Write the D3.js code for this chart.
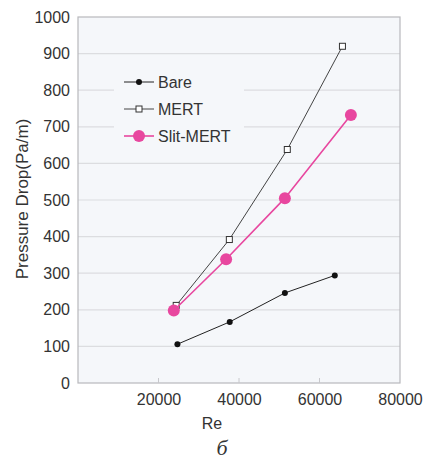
<!DOCTYPE html>
<html>
<head>
<meta charset="utf-8">
<script src="https://cdn.jsdelivr.net/npm/d3@7"></script>
<style>
  body { margin: 0; background: #fff; }
  svg text { font-family: "Liberation Sans", Arial, sans-serif; fill: #333; }
</style>
</head>
<body>
<svg width="427" height="461"></svg>
<script>
  const bareRe = [24700, 37700, 51400, 63800];
  const bareDp = [106, 167, 246, 294];
  const mertRe = [24400, 37600, 52000, 65700];
  const mertDp = [212, 392, 638, 920];
  const slitRe = [23800, 36800, 51400, 67800];
  const slitDp = [198, 338, 505, 732];
  const xTicks = [20000, 40000, 60000, 80000];
  const yTicks = [0, 100, 200, 300, 400, 500, 600, 700, 800, 900, 1000];

  const svg = d3.select('svg');
  const margin = { top: 17, right: 27, bottom: 78, left: 78 };
  const width = 427 - margin.left - margin.right;
  const height = 461 - margin.top - margin.bottom;
  const font = '"Liberation Sans", Arial, sans-serif';

  const x = d3.scaleLinear().domain([0, 80000]).range([0, width]);
  const y = d3.scaleLinear().domain([0, 1000]).range([height, 0]);

  const g = svg.append('g')
    .attr('transform', `translate(${margin.left},${margin.top})`);

  g.append('rect')
    .attr('width', width).attr('height', height)
    .attr('fill', '#f5f7fa');

  // horizontal grid
  g.append('g')
    .selectAll('line')
    .data(yTicks.slice(1, -1))
    .enter().append('line')
      .attr('x1', 0).attr('x2', width)
      .attr('y1', d => y(d)).attr('y2', d => y(d))
      .attr('stroke', '#dcdde0').attr('stroke-width', 1.2);

  g.append('rect')
    .attr('width', width).attr('height', height)
    .attr('fill', 'none').attr('stroke', '#b8b8bc').attr('stroke-width', 1.2);

  // small x ticks inside
  g.append('g')
    .selectAll('line')
    .data(xTicks.slice(0, -1))
    .enter().append('line')
      .attr('x1', d => x(d)).attr('x2', d => x(d))
      .attr('y1', height).attr('y2', height - 5)
      .attr('stroke', '#c8c8cc');

  const yAxis = d3.axisLeft(y).tickValues(yTicks).tickFormat(d3.format('d'))
    .tickSize(0).tickPadding(8);
  g.append('g').call(yAxis)
    .attr('font-family', font)
    .call(s => s.select('.domain').remove())
    .selectAll('text').style('font-size', '16px').attr('fill', '#333');

  const xAxis = d3.axisBottom(x).tickValues(xTicks).tickFormat(d3.format('d'))
    .tickSize(0).tickPadding(11);
  g.append('g').attr('transform', `translate(0,${height})`).call(xAxis)
    .attr('font-family', font)
    .call(s => s.select('.domain').remove())
    .selectAll('text').style('font-size', '16px').attr('fill', '#333');

  // legend background hides grid
  g.append('rect')
    .attr('x', 36).attr('y', 58).attr('width', 130).attr('height', 80)
    .attr('fill', '#f5f7fa');

  const line = d3.line().x(d => x(d[0])).y(d => y(d[1]));
  const series = [
    { name: 'Bare', re: bareRe, dp: bareDp, color: '#222', width: 1, marker: 'dot' },
    { name: 'MERT', re: mertRe, dp: mertDp, color: '#444', width: 1, marker: 'square' },
    { name: 'Slit-MERT', re: slitRe, dp: slitDp, color: '#e8479f', width: 1.6, marker: 'big' }
  ];

  function drawMarker(sel, s) {
    if (s.marker === 'dot') {
      sel.append('circle').attr('r', 3).attr('fill', '#111');
    } else if (s.marker === 'square') {
      sel.append('rect').attr('x', -3).attr('y', -3).attr('width', 6).attr('height', 6)
        .attr('fill', '#fff').attr('stroke', '#333').attr('stroke-width', 1);
    } else {
      sel.append('circle').attr('r', 6).attr('fill', '#e8479f');
    }
  }

  series.forEach(s => {
    const pts = s.re.map((r, i) => [r, s.dp[i]]);
    g.append('path').datum(pts)
      .attr('d', line).attr('fill', 'none')
      .attr('stroke', s.color).attr('stroke-width', s.width);
    pts.forEach(p => {
      const m = g.append('g').attr('transform', `translate(${x(p[0])},${y(p[1])})`);
      drawMarker(m, s);
    });
  });

  // legend
  const legend = g.append('g').attr('transform', 'translate(46,65)');
  series.forEach((s, i) => {
    const row = legend.append('g').attr('transform', `translate(0,${i * 27})`);
    row.append('line').attr('x1', 0).attr('x2', 30)
      .attr('stroke', s.color).attr('stroke-width', s.width);
    drawMarker(row.append('g').attr('transform', 'translate(15,0)'), s);
    row.append('text').attr('x', 34).attr('dy', '0.35em')
      .style('font-size', '16px').text(s.name);
  });

  svg.append('text')
    .attr('transform', `translate(28,${margin.top + height / 2 - 1}) rotate(-90)`)
    .attr('text-anchor', 'middle')
    .style('font-size', '17px')
    .text('Pressure Drop(Pa/m)');

  svg.append('text')
    .attr('x', margin.left + x(40000) - 27).attr('y', 429)
    .attr('text-anchor', 'middle')
    .style('font-size', '16px')
    .text('Re');

  svg.append('text')
    .attr('x', 222).attr('y', 455)
    .attr('text-anchor', 'middle')
    .style('font-family', '"Liberation Serif", serif')
    .style('font-style', 'italic')
    .style('font-size', '22px')
    .attr('fill', '#111')
    .text('б');
</script>
</body>
</html>
